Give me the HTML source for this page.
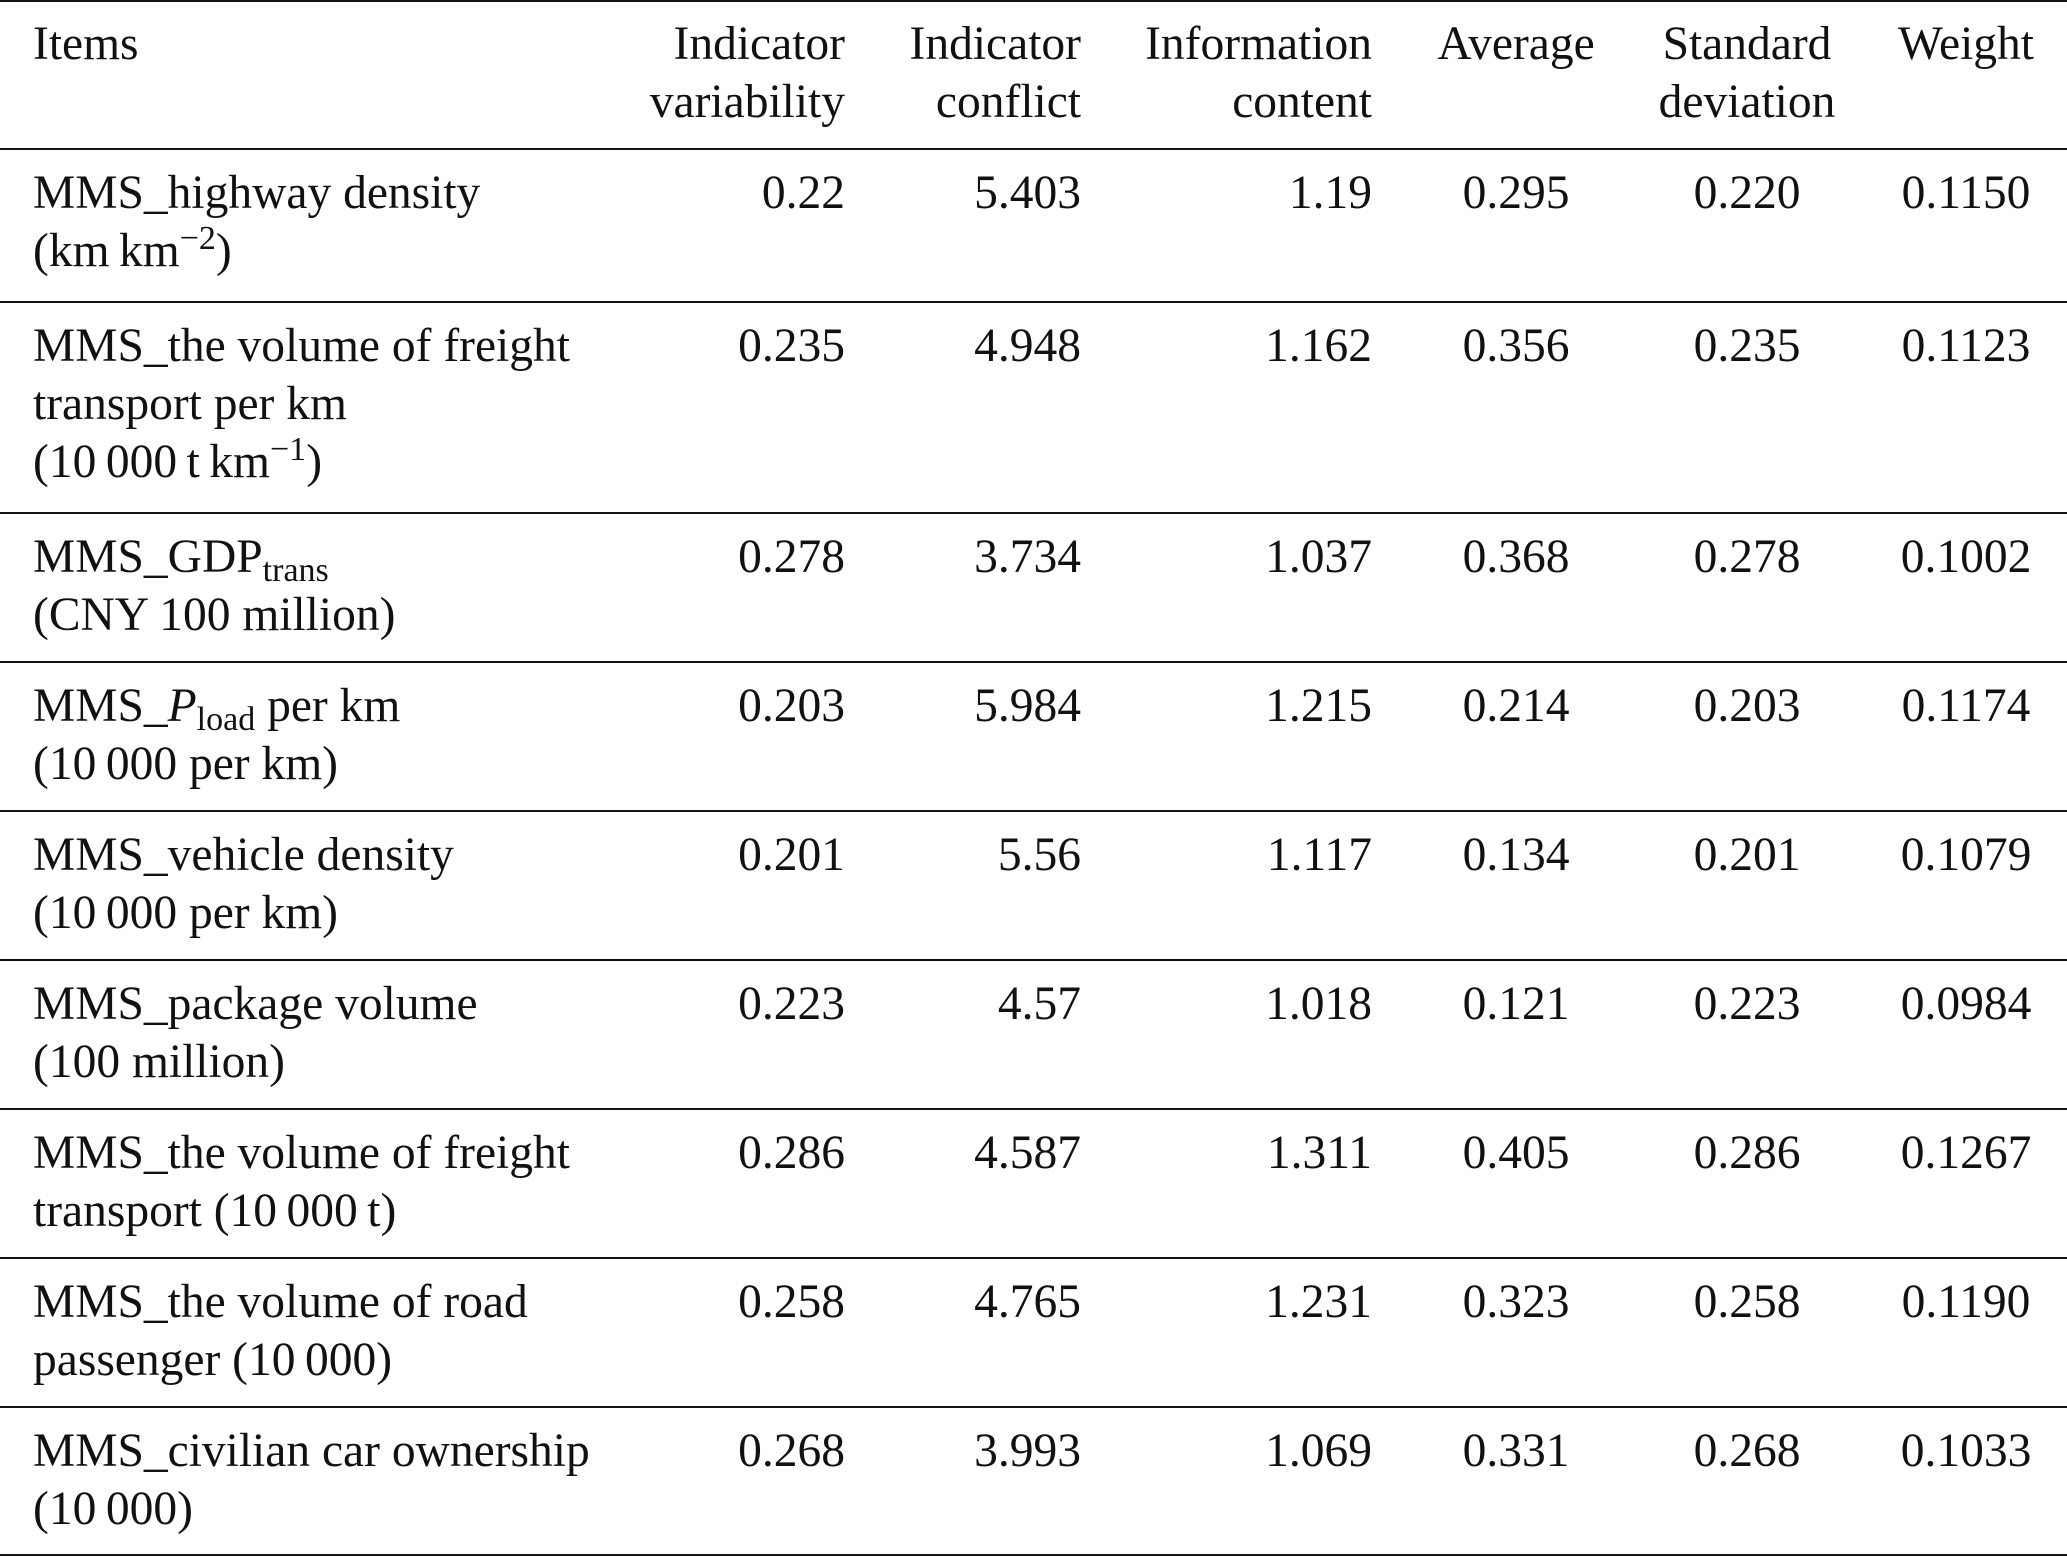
<!DOCTYPE html>
<html><head><meta charset="utf-8"><style>
html,body{margin:0;padding:0;background:#fff;}
body{width:2067px;height:1557px;position:relative;overflow:hidden;font-family:"Liberation Serif","DejaVu Serif",serif;font-size:47.5px;color:#111;}
.l{position:absolute;left:0;width:2067px;height:2px;background:#111;}
.c{position:absolute;line-height:58px;white-space:nowrap;}
.L{left:33px;}
.r1{right:calc(2067px - 845px);text-align:right;}
.r2{right:calc(2067px - 1081px);text-align:right;}
.r3{right:calc(2067px - 1372px);text-align:right;}
.m4{left:1416px;width:200px;text-align:center;}
.m5{left:1627px;width:240px;text-align:center;}
.m6{left:1866px;width:200px;text-align:center;}
sup{font-size:34px;vertical-align:0;position:relative;top:-17px;line-height:0;}
sub{font-size:34px;vertical-align:0;position:relative;top:9px;line-height:0;}
</style></head><body>
<div class="l" style="top:0px"></div>
<div class="l" style="top:148px"></div>
<div class="l" style="top:301px"></div>
<div class="l" style="top:512px"></div>
<div class="l" style="top:661px"></div>
<div class="l" style="top:810px"></div>
<div class="l" style="top:959px"></div>
<div class="l" style="top:1108px"></div>
<div class="l" style="top:1257px"></div>
<div class="l" style="top:1406px"></div>
<div class="l" style="top:1554px"></div>

<div class="c L" style="top:15px">Items</div>
<div class="c r1" style="top:15px">Indicator<br>variability</div>
<div class="c r2" style="top:15px">Indicator<br>conflict</div>
<div class="c r3" style="top:15px">Information<br>content</div>
<div class="c m4" style="top:15px">Average</div>
<div class="c m5" style="top:15px">Standard<br>deviation</div>
<div class="c m6" style="top:15px">Weight</div>

<div class="c L" style="top:164px">MMS_highway density<br>(km&#8201;km<sup>−2</sup>)</div>
<div class="c r1" style="top:164px">0.22</div><div class="c r2" style="top:164px">5.403</div><div class="c r3" style="top:164px">1.19</div><div class="c m4" style="top:164px">0.295</div><div class="c m5" style="top:164px">0.220</div><div class="c m6" style="top:164px">0.1150</div>

<div class="c L" style="top:317px">MMS_the volume of freight<br>transport per km<br>(10&#8201;000&#8201;t&#8201;km<sup>−1</sup>)</div>
<div class="c r1" style="top:317px">0.235</div><div class="c r2" style="top:317px">4.948</div><div class="c r3" style="top:317px">1.162</div><div class="c m4" style="top:317px">0.356</div><div class="c m5" style="top:317px">0.235</div><div class="c m6" style="top:317px">0.1123</div>

<div class="c L" style="top:528px">MMS_GDP<sub>trans</sub><br>(CNY 100 million)</div>
<div class="c r1" style="top:528px">0.278</div><div class="c r2" style="top:528px">3.734</div><div class="c r3" style="top:528px">1.037</div><div class="c m4" style="top:528px">0.368</div><div class="c m5" style="top:528px">0.278</div><div class="c m6" style="top:528px">0.1002</div>

<div class="c L" style="top:677px">MMS_<i>P</i><sub>load</sub> per km<br>(10&#8201;000 per km)</div>
<div class="c r1" style="top:677px">0.203</div><div class="c r2" style="top:677px">5.984</div><div class="c r3" style="top:677px">1.215</div><div class="c m4" style="top:677px">0.214</div><div class="c m5" style="top:677px">0.203</div><div class="c m6" style="top:677px">0.1174</div>

<div class="c L" style="top:826px">MMS_vehicle density<br>(10&#8201;000 per km)</div>
<div class="c r1" style="top:826px">0.201</div><div class="c r2" style="top:826px">5.56</div><div class="c r3" style="top:826px">1.117</div><div class="c m4" style="top:826px">0.134</div><div class="c m5" style="top:826px">0.201</div><div class="c m6" style="top:826px">0.1079</div>

<div class="c L" style="top:975px">MMS_package volume<br>(100 million)</div>
<div class="c r1" style="top:975px">0.223</div><div class="c r2" style="top:975px">4.57</div><div class="c r3" style="top:975px">1.018</div><div class="c m4" style="top:975px">0.121</div><div class="c m5" style="top:975px">0.223</div><div class="c m6" style="top:975px">0.0984</div>

<div class="c L" style="top:1124px">MMS_the volume of freight<br>transport (10&#8201;000&#8201;t)</div>
<div class="c r1" style="top:1124px">0.286</div><div class="c r2" style="top:1124px">4.587</div><div class="c r3" style="top:1124px">1.311</div><div class="c m4" style="top:1124px">0.405</div><div class="c m5" style="top:1124px">0.286</div><div class="c m6" style="top:1124px">0.1267</div>

<div class="c L" style="top:1273px">MMS_the volume of road<br>passenger (10&#8201;000)</div>
<div class="c r1" style="top:1273px">0.258</div><div class="c r2" style="top:1273px">4.765</div><div class="c r3" style="top:1273px">1.231</div><div class="c m4" style="top:1273px">0.323</div><div class="c m5" style="top:1273px">0.258</div><div class="c m6" style="top:1273px">0.1190</div>

<div class="c L" style="top:1422px">MMS_civilian car ownership<br>(10&#8201;000)</div>
<div class="c r1" style="top:1422px">0.268</div><div class="c r2" style="top:1422px">3.993</div><div class="c r3" style="top:1422px">1.069</div><div class="c m4" style="top:1422px">0.331</div><div class="c m5" style="top:1422px">0.268</div><div class="c m6" style="top:1422px">0.1033</div>
</body></html>
